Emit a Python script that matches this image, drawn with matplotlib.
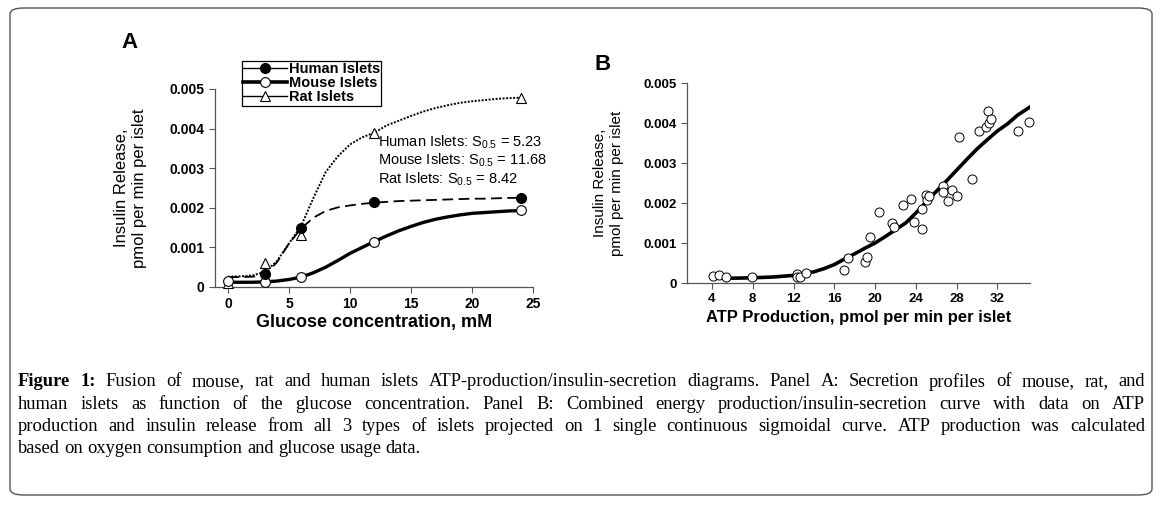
import matplotlib
matplotlib.use('Agg')
import matplotlib.pyplot as plt
from matplotlib.lines import Line2D
from matplotlib.patches import FancyBboxPatch

plt.rcParams['font.family'] = ['Liberation Sans', 'DejaVu Sans']
plt.rcParams['mathtext.fontset'] = 'custom'
plt.rcParams['mathtext.rm'] = 'Liberation Sans'
plt.rcParams['mathtext.it'] = 'Liberation Sans:italic'

# ---- Panel A data: glucose (mM) vs insulin release
glucose = [0, 3, 6, 12, 24]
human = [0.00032, 0.00148, 0.00214, 0.00226]
human_x = [3, 6, 12, 24]
mouse = [0.00016, 0.00013, 0.00024, 0.00114, 0.00194]
rat = [0.00011, 0.00060, 0.00131, 0.00388, 0.00478]

# fitted curves
fit_x = [0, 1, 2, 3, 4, 5, 6, 7, 8, 9, 10, 11, 12, 13, 14, 15, 16, 17, 18, 19, 20, 21, 22, 23, 24]
human_fit = [0.00025, 0.00025, 0.00026, 0.00031, 0.00062, 0.00110, 0.00148, 0.00175, 0.00192, 0.00201, 0.00206,
             0.00210, 0.00213, 0.00215, 0.00217, 0.00218, 0.00219, 0.00220, 0.00221, 0.00222, 0.00223, 0.00223,
             0.00224, 0.00225, 0.00225]
mouse_fit = [0.00012, 0.00012, 0.00012, 0.00013, 0.00015, 0.00019, 0.00025, 0.00036, 0.00050, 0.00067, 0.00085,
             0.00100, 0.00115, 0.00129, 0.00142, 0.00153, 0.00163, 0.00171, 0.00177, 0.00182, 0.00186, 0.00188,
             0.00190, 0.00192, 0.00193]
rat_fit = [0.00026, 0.00027, 0.00029, 0.00038, 0.00065, 0.00110, 0.00155, 0.00225, 0.00290, 0.00330, 0.00360,
           0.00378, 0.00390, 0.00408, 0.00420, 0.00432, 0.00443, 0.00452, 0.00459, 0.00465, 0.00469, 0.00472,
           0.00475, 0.00477, 0.00478]

# ---- Panel B data: ATP production vs insulin release (all islets)
atp = [4.1, 4.7, 5.4, 7.9, 12.3, 12.3, 12.6, 13.2, 16.95, 17.3, 19.0, 19.2, 19.55, 20.4, 21.7, 21.9, 22.7, 23.5,
       23.85, 24.6, 24.65, 24.95, 25.1, 25.25, 26.7, 26.7, 27.2, 27.5, 28.0, 28.2, 29.5, 30.2, 30.9, 31.1, 31.2,
       31.4, 34.0, 35.1]
release = [0.000175, 0.00019, 0.00014, 0.00015, 0.00023, 0.00014, 0.00014, 0.00025, 0.00033, 0.000625, 0.00053,
           0.00066, 0.00115, 0.00178, 0.0015, 0.00139, 0.00195, 0.00211, 0.00152, 0.00186, 0.00135, 0.0022, 0.00208,
           0.00217, 0.00243, 0.00227, 0.00204, 0.00233, 0.00217, 0.00364, 0.0026, 0.00381, 0.00389, 0.00429, 0.004,
           0.00411, 0.00381, 0.00402]
atp_fit = [4.2, 6, 8, 10, 12, 13, 14, 15, 16, 17, 18, 19, 20, 21, 22, 23, 24, 25, 26, 27, 28, 29, 30, 31, 32, 33,
           34, 35.2]
release_fit = [0.00012, 0.00012, 0.00013, 0.00015, 0.00019, 0.00023, 0.00028, 0.00036, 0.00046, 0.00060, 0.00073,
               0.00087, 0.00100, 0.00116, 0.00133, 0.00150, 0.00175, 0.00202, 0.00229, 0.00255, 0.00282, 0.00309,
               0.00335, 0.00358, 0.00380, 0.00398, 0.00420, 0.00440]

yticks = [0, 0.001, 0.002, 0.003, 0.004, 0.005]
ytick_labels = ['0', '0.001', '0.002', '0.003', '0.004', '0.005']

caption = [
    "Figure 1: Fusion of mouse, rat and human islets ATP-production/insulin-secretion diagrams. Panel A: Secretion profiles of mouse, rat, and",
    "human islets as function of the glucose concentration. Panel B: Combined energy production/insulin-secretion curve with data on ATP",
    "production and insulin release from all 3 types of islets projected on 1 single continuous sigmoidal curve. ATP production was calculated",
    "based on oxygen consumption and glucose usage data.",
]

W, H = 1162, 505
fig = plt.figure(figsize=(W / 100, H / 100), dpi=100)


def box(l, t, r, b):
    return [l / W, 1 - b / H, (r - l) / W, (b - t) / H]


# outer rounded frame
fig.patches.append(FancyBboxPatch((10 / W, 10 / H), 1142 / W, 487 / H, boxstyle='round,pad=0,rounding_size=0.012',
                                  transform=fig.transFigure, fill=False, edgecolor='#555555', linewidth=1.0))

# ---------------- Panel A
ax1 = fig.add_axes(box(215, 89, 533, 287))
ax1.plot(fit_x, rat_fit, color='black', linestyle=(0, (1, 0.8)), linewidth=1.4)
ax1.plot(fit_x, human_fit, color='black', linestyle=(0, (6, 3)), linewidth=1.3)
ax1.plot(fit_x, mouse_fit, color='black', linewidth=2.4)
ax1.plot(glucose, rat, linestyle='none', marker='^', markersize=7.5, markerfacecolor='white',
         markeredgecolor='black', markeredgewidth=0.8, clip_on=False, zorder=4)
ax1.plot(glucose, mouse, linestyle='none', marker='o', markersize=7, markerfacecolor='white',
         markeredgecolor='black', markeredgewidth=0.8, clip_on=False, zorder=4)
ax1.plot(human_x, human, linestyle='none', marker='o', markersize=7, color='black', clip_on=False, zorder=5)
ax1.set_xlim(-1.07, 25)
ax1.set_ylim(0, 0.005)
ax1.set_xticks([0, 5, 10, 15, 20, 25])
ax1.set_yticks(yticks)
ax1.set_yticklabels(ytick_labels)
ax1.set_xlabel('Glucose concentration, mM', fontsize=13, fontweight='bold', labelpad=2)
ax1.set_ylabel('Insulin Release,\npmol per min per islet', fontsize=12,
               family=['Liberation Sans Narrow', 'Liberation Sans'], labelpad=16, linespacing=1.25)

handles = [
    Line2D([], [], color='black', linewidth=1, marker='o', markersize=7),
    Line2D([], [], color='black', linewidth=2.6, marker='o', markersize=7, markerfacecolor='white', markeredgewidth=0.8),
    Line2D([], [], color='black', linewidth=1, marker='^', markersize=7, markerfacecolor='white', markeredgewidth=0.8),
]
leg = ax1.legend(handles, ['Human Islets', 'Mouse Islets', 'Rat Islets'], loc='upper left',
                 bbox_to_anchor=(242 / W, 1 - 61 / H), bbox_transform=fig.transFigure,
                 prop={'weight': 'bold', 'size': 10.5}, fancybox=False, edgecolor='black', framealpha=1,
                 borderpad=0.1, labelspacing=0.0, handlelength=3.0, handletextpad=0.1, borderaxespad=0)
leg.get_frame().set_linewidth(0.9)

ann = ['Human Islets: S$_{0.5}$ = 5.23', 'Mouse Islets: S$_{0.5}$ = 11.68', 'Rat Islets: S$_{0.5}$ = 8.42']
for i, s in enumerate(ann):
    fig.text(378 / W, 1 - (142 + 18.5 * i) / H, s, fontsize=10.5, va='center', ha='left')

fig.text(130 / W, 1 - 43 / H, 'A', fontsize=16, fontweight='bold', ha='center', va='center')

# ---------------- Panel B
ax2 = fig.add_axes(box(687, 83, 1030, 283))
ax2.plot(atp_fit, release_fit, color='black', linewidth=2.6, zorder=3)
ax2.plot(atp, release, linestyle='none', marker='o', markersize=6.5, markerfacecolor='white',
         markeredgecolor='black', markeredgewidth=0.7, clip_on=False, zorder=4)
ax2.set_xlim(1.55, 35.2)
ax2.set_ylim(0, 0.005)
ax2.set_xticks([4, 8, 12, 16, 20, 24, 28, 32])
ax2.set_yticks(yticks)
ax2.set_yticklabels(ytick_labels)
ax2.set_xlabel('ATP Production, pmol per min per islet', fontsize=12, fontweight='bold', labelpad=3)
ax2.set_ylabel('Insulin Release,\npmol per min per islet', fontsize=11,
               family=['Liberation Sans Narrow', 'Liberation Sans'], labelpad=14, linespacing=1.25)
fig.text(603 / W, 1 - 65 / H, 'B', fontsize=16, fontweight='bold', ha='center', va='center')

for ax, fs in [(ax1, 10), (ax2, 9.5)]:
    for side in ['top', 'right']:
        ax.spines[side].set_visible(False)
    for side in ['left', 'bottom']:
        ax.spines[side].set_color('#555555')
        ax.spines[side].set_linewidth(0.9)
    ax.tick_params(direction='out', length=4, width=0.8, color='#555555', labelsize=fs)
    for lab in ax.get_xticklabels() + ax.get_yticklabels():
        lab.set_fontweight('bold')
    ax.patch.set_alpha(0)

# ---------------- caption (justified lines)
renderer = fig.canvas.get_renderer()
left_px, right_px = 18, 1145
for i, line in enumerate(caption):
    y = 1 - (382 + 22.3 * i) / H
    words = line.split(' ')
    objs = []
    for j, w in enumerate(words):
        bold = (i == 0 and j < 2)
        t = fig.text(0, y, w, fontsize=13.3, family='Liberation Serif',
                     fontweight='bold' if bold else 'normal', va='center', ha='left')
        objs.append(t)
    widths = [t.get_window_extent(renderer).width for t in objs]
    if i < len(caption) - 1:
        gap = (right_px - left_px - sum(widths)) / (len(words) - 1)
    else:
        gap = 4.5
    x = left_px
    for t, w in zip(objs, widths):
        t.set_x(x / W)
        x += w + gap

fig.savefig('out.png', dpi=100)
